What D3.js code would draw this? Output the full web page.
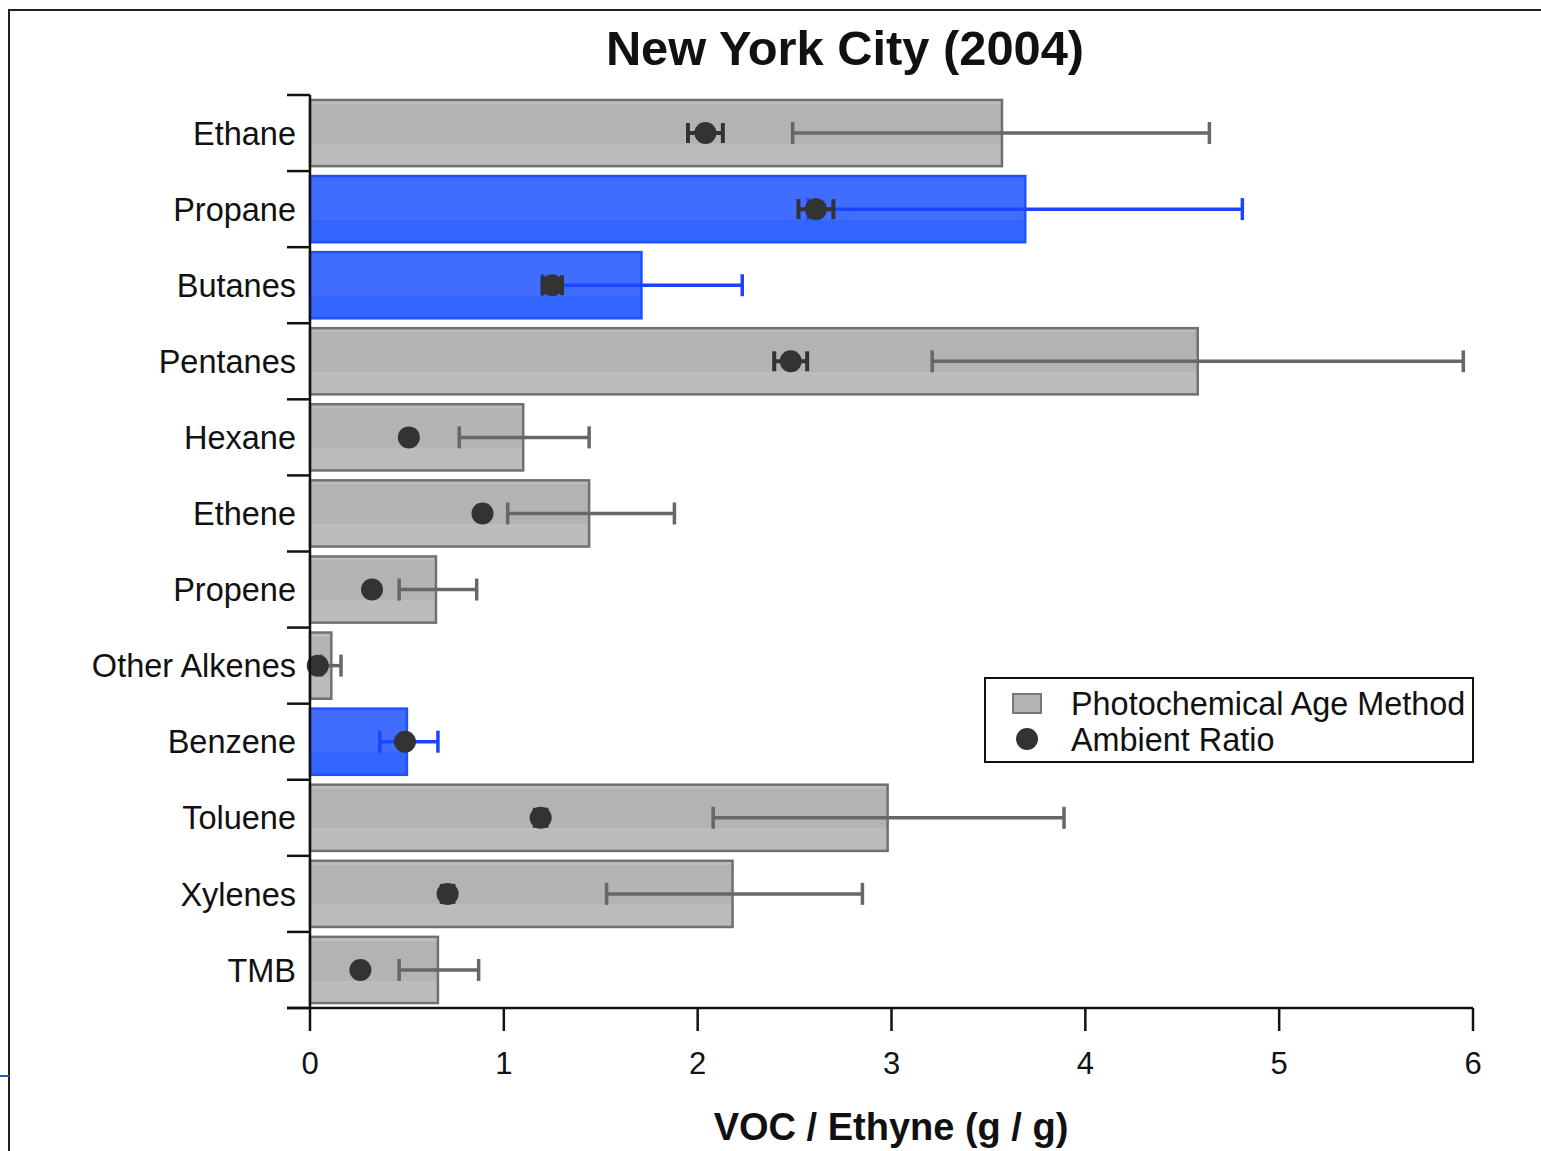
<!DOCTYPE html>
<html lang="en">
<head>
    <meta charset="utf-8" />
    <title>New York City (2004)</title>
    <script src="https://d3js.org/d3.v7.min.js"></script>
    <style>
        body {
            margin: 0;
            padding: 0;
            background: white;
        }
        svg text {
            font-family: "Liberation Sans", Arial, sans-serif;
        }
    </style>
</head>
<body>
<svg id="chart"></svg>
<script>
    var w = 1541;
    var h = 1151;

    // chart values
    var categories = ["Ethane", "Propane", "Butanes", "Pentanes", "Hexane", "Ethene",
                      "Propene", "Other Alkenes", "Benzene", "Toluene", "Xylenes", "TMB"];
    var barValues  = [3.57, 3.69, 1.71, 4.58, 1.10, 1.44, 0.65, 0.11, 0.50, 2.98, 2.18, 0.66];
    var barLow     = [2.49, 2.57, 1.20, 3.21, 0.77, 1.02, 0.46, 0.06, 0.36, 2.08, 1.53, 0.46];
    var barHigh    = [4.64, 4.81, 2.23, 5.95, 1.44, 1.88, 0.86, 0.16, 0.66, 3.89, 2.85, 0.87];
    var ambient    = [2.04, 2.61, 1.25, 2.48, 0.51, 0.89, 0.32, 0.04, 0.49, 1.19, 0.71, 0.26];
    var ambientErr = [0.09, 0.09, 0.05, 0.085, 0, 0, 0, 0, 0, 0.03, 0.03, 0];
    var highlighted = ["Propane", "Butanes", "Benzene"];
    var xTicks = [0, 1, 2, 3, 4, 5, 6];
    var legendLabels = ["Photochemical Age Method", "Ambient Ratio"];

    var rows = categories.map(function(c, i) {
        return {
            name: c, value: barValues[i], lo: barLow[i], hi: barHigh[i],
            amb: ambient[i], ambErr: ambientErr[i],
            blue: highlighted.indexOf(c) >= 0
        };
    });

    var svg = d3.select("#chart")
                .attr("width", w)
                .attr("height", h);

    // gradients giving the banded look of the bars
    var defs = svg.append("defs");
    var gGray = defs.append("linearGradient").attr("id", "gradGray")
        .attr("x1", 0).attr("y1", 0).attr("x2", 0).attr("y2", 1);
    [[0, "#bdbdbd"], [0.06, "#bdbdbd"], [0.06, "#b3b3b3"], [0.66, "#b3b3b3"],
     [0.66, "#bcbcbc"], [1, "#bcbcbc"]].forEach(function(s) {
        gGray.append("stop").attr("offset", s[0]).attr("stop-color", s[1]);
    });
    var gBlue = defs.append("linearGradient").attr("id", "gradBlue")
        .attr("x1", 0).attr("y1", 0).attr("x2", 0).attr("y2", 1);
    [[0, "#406cff"], [0.66, "#406cff"], [0.66, "#3366ff"], [1, "#3366ff"]].forEach(function(s) {
        gBlue.append("stop").attr("offset", s[0]).attr("stop-color", s[1]);
    });

    // outer frame of the figure
    svg.append("path")
        .attr("d", "M9,1151 V10 H1541")
        .attr("fill", "none")
        .attr("stroke", "#222")
        .attr("stroke-width", 2);
    svg.append("line")
        .attr("x1", 0).attr("x2", 9).attr("y1", 1076).attr("y2", 1076)
        .attr("stroke", "#2a5a9a").attr("stroke-width", 2);

    var xScale = d3.scaleLinear()
                .domain([0, 6])
                .range([310, 1473]);

    var yScale = d3.scaleBand()
                .domain(categories)
                .range([95, 1008])
                .paddingInner(0.13)
                .paddingOuter(0.065);

    var step = yScale.step();
    var bw = yScale.bandwidth();

    // Title
    svg.append("text")
        .attr("x", 845)
        .attr("y", 65)
        .attr("text-anchor", "middle")
        .attr("font-size", "48.8px")
        .attr("font-weight", "bold")
        .attr("fill", "#111")
        .text("New York City (2004)");

    // Bars
    svg.selectAll("rect.bar")
        .data(rows)
        .enter().append("rect")
        .attr("class", "bar")
        .attr("x", xScale(0))
        .attr("y", function(d) { return yScale(d.name); })
        .attr("width", function(d) { return xScale(d.value) - xScale(0); })
        .attr("height", bw)
        .attr("fill", function(d) { return d.blue ? "url(#gradBlue)" : "url(#gradGray)"; })
        .attr("stroke", function(d) { return d.blue ? "#2050ff" : "#707070"; })
        .attr("stroke-width", 2.5);

    // Error bars of the photochemical age method
    var capH = 11;
    var errG = svg.append("g");
    rows.forEach(function(d) {
        var cy = yScale(d.name) + bw / 2;
        var col = d.blue ? "#1a44ff" : "#676767";
        errG.append("line")
            .attr("x1", xScale(d.lo)).attr("x2", xScale(d.hi))
            .attr("y1", cy).attr("y2", cy)
            .attr("stroke", col).attr("stroke-width", 3.5);
        [d.lo, d.hi].forEach(function(v) {
            errG.append("line")
                .attr("x1", xScale(v)).attr("x2", xScale(v))
                .attr("y1", cy - capH).attr("y2", cy + capH)
                .attr("stroke", col).attr("stroke-width", 3.5);
        });
    });

    // Ambient ratio points with their small error bars
    var ptG = svg.append("g");
    rows.forEach(function(d) {
        var cy = yScale(d.name) + bw / 2;
        if (d.ambErr > 0) {
            ptG.append("line")
                .attr("x1", xScale(d.amb - d.ambErr)).attr("x2", xScale(d.amb + d.ambErr))
                .attr("y1", cy).attr("y2", cy)
                .attr("stroke", "#333").attr("stroke-width", 4);
            [d.amb - d.ambErr, d.amb + d.ambErr].forEach(function(v) {
                ptG.append("line")
                    .attr("x1", xScale(v)).attr("x2", xScale(v))
                    .attr("y1", cy - 10).attr("y2", cy + 10)
                    .attr("stroke", "#333").attr("stroke-width", 4);
            });
        }
        ptG.append("circle")
            .attr("cx", xScale(d.amb))
            .attr("cy", cy)
            .attr("r", 11)
            .attr("fill", "#333");
    });

    // Y axis: vertical line, ticks at band boundaries, labels
    var axisG = svg.append("g");
    axisG.append("line")
        .attr("x1", xScale(0)).attr("x2", xScale(0))
        .attr("y1", 95).attr("y2", 1008)
        .attr("stroke", "#111").attr("stroke-width", 2.5);
    d3.range(categories.length + 1).forEach(function(i) {
        var yy = 95 + i * step;
        axisG.append("line")
            .attr("x1", 287).attr("x2", xScale(0))
            .attr("y1", yy).attr("y2", yy)
            .attr("stroke", "#111").attr("stroke-width", 2.5);
    });
    axisG.selectAll("text.cat")
        .data(categories)
        .enter().append("text")
        .attr("class", "cat")
        .attr("x", 296)
        .attr("y", function(d) { return yScale(d) + bw / 2; })
        .attr("dy", "0.36em")
        .attr("text-anchor", "end")
        .attr("font-size", "32.5px")
        .attr("fill", "#111")
        .text(function(d) { return d; });

    // X axis
    axisG.append("line")
        .attr("x1", 287).attr("x2", xScale(6))
        .attr("y1", 1008).attr("y2", 1008)
        .attr("stroke", "#111").attr("stroke-width", 2.5);
    axisG.selectAll("line.xt")
        .data(xTicks)
        .enter().append("line")
        .attr("class", "xt")
        .attr("x1", function(d) { return xScale(d); })
        .attr("x2", function(d) { return xScale(d); })
        .attr("y1", 1008).attr("y2", 1031)
        .attr("stroke", "#111").attr("stroke-width", 2.5);
    axisG.selectAll("text.xt")
        .data(xTicks)
        .enter().append("text")
        .attr("class", "xt")
        .attr("x", function(d) { return xScale(d); })
        .attr("y", 1074)
        .attr("text-anchor", "middle")
        .attr("font-size", "31px")
        .attr("fill", "#111")
        .text(function(d) { return d; });

    svg.append("text")
        .attr("x", 891)
        .attr("y", 1140)
        .attr("text-anchor", "middle")
        .attr("font-size", "38px")
        .attr("font-weight", "bold")
        .attr("fill", "#111")
        .text("VOC / Ethyne (g / g)");

    // Legend
    var leg = svg.append("g");
    leg.append("rect")
        .attr("x", 985).attr("y", 678)
        .attr("width", 488).attr("height", 84)
        .attr("fill", "white")
        .attr("stroke", "#111").attr("stroke-width", 2);
    leg.append("rect")
        .attr("x", 1013).attr("y", 694)
        .attr("width", 28).attr("height", 19)
        .attr("fill", "#b3b3b3")
        .attr("stroke", "#777").attr("stroke-width", 2);
    leg.append("circle")
        .attr("cx", 1027).attr("cy", 739).attr("r", 11)
        .attr("fill", "#333");
    leg.selectAll("text")
        .data(legendLabels)
        .enter().append("text")
        .attr("x", 1071)
        .attr("y", function(d, i) { return 703 + i * 36; })
        .attr("dy", "0.36em")
        .attr("font-size", "32.4px")
        .attr("fill", "#111")
        .text(function(d) { return d; });
</script>
</body>
</html>
